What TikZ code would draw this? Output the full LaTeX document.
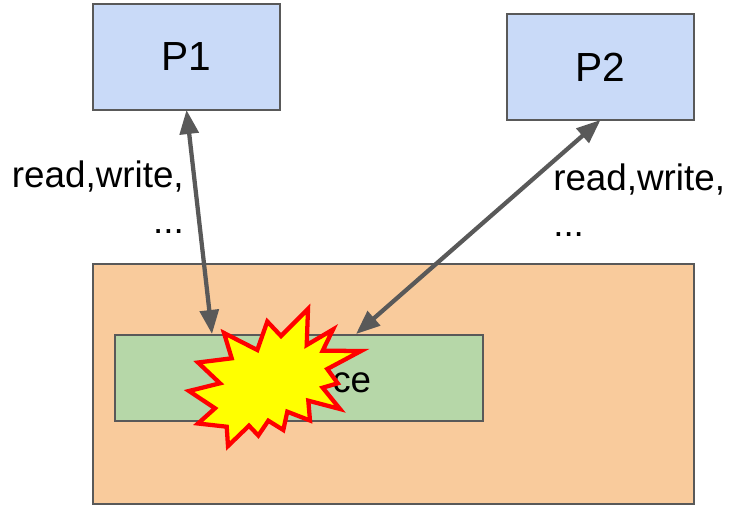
\documentclass[tikz,border=0pt]{standalone}
\usepackage{fontspec}
\setmainfont{Liberation Sans}
\usetikzlibrary{arrows.meta}
\tikzset{
 box/.style={draw=edgegray,line width=1.5pt,inner sep=0pt,outer sep=0pt},
 opname/.style={inner sep=0pt,font=\fontsize{27.6}{34.5}\selectfont},
 access/.style={draw=edgegray,line width=3.2pt,<->}
}
\definecolor{edgegray}{HTML}{595959}
\definecolor{procblue}{HTML}{C9DAF8}
\definecolor{memorange}{HTML}{F9CB9C}
\definecolor{shgreen}{HTML}{B6D7A8}
\definecolor{burstfill}{HTML}{FFFF00}
\definecolor{burstline}{HTML}{FF0000}
\begin{document}
\begin{tikzpicture}[>={Triangle[length=18pt,width=14pt]},x=0.75pt,y=-0.75pt]
\useasboundingbox (0,0) rectangle (730,505);
% two processes
\node[box,fill=procblue,minimum width=140.25pt,minimum height=79.5pt,font=\fontsize{30.5}{34}\selectfont] (p1) at (186.5,57) {P1};
\node[box,fill=procblue,minimum width=140.25pt,minimum height=79.5pt,font=\fontsize{30.5}{34}\selectfont] (p2) at (600.5,67) {P2};
% memory and the shared part
\node[box,fill=memorange,minimum width=450.75pt,minimum height=180pt] (mem) at (393.5,384) {};
\node[box,fill=shgreen,minimum width=276pt,minimum height=64.5pt] (shared) at (299,378) {};
\node[anchor=base west,inner sep=0pt,font=\fontsize{27.6}{30}\selectfont] (sharedname) at (332,392) {ce};
% arrows
\coordinate (hit1) at (212,334);
\coordinate (hit2) at (356,334);
\draw[access] (p1.south)--(hit1);
\draw[access] (p2.south)--(hit2);
\node[opname,align=right,anchor=north east] (op1) at (184,161) {read,write,\\...};
\node[opname,align=left,anchor=north west] (op2) at (553,164) {read,write,\\...};
% the burst
\draw[draw=burstline,fill=burstfill,line width=3.2pt,line join=miter,miter limit=10]
 (308,309)--(306.7,345)--(333,329.5)--(322.7,350.7)--(361,351)--(327.3,369)--(337.7,383.3)
 --(322.7,387.7)--(340,409)--(308.3,400.7)--(310,420.5)--(287.3,411.7)--(283.3,430)--(268.3,420.7)
 --(258.3,435.5)--(249,425.7)--(228,446)--(226.7,426.7)--(198,423.5)--(215,408.3)--(189,391)
 --(220,383.3)--(198,362.5)--(231.7,358.3)--(224,333)--(257.3,350)--(267.3,321.5)--(281,336)--cycle;
\end{tikzpicture}
\end{document}
